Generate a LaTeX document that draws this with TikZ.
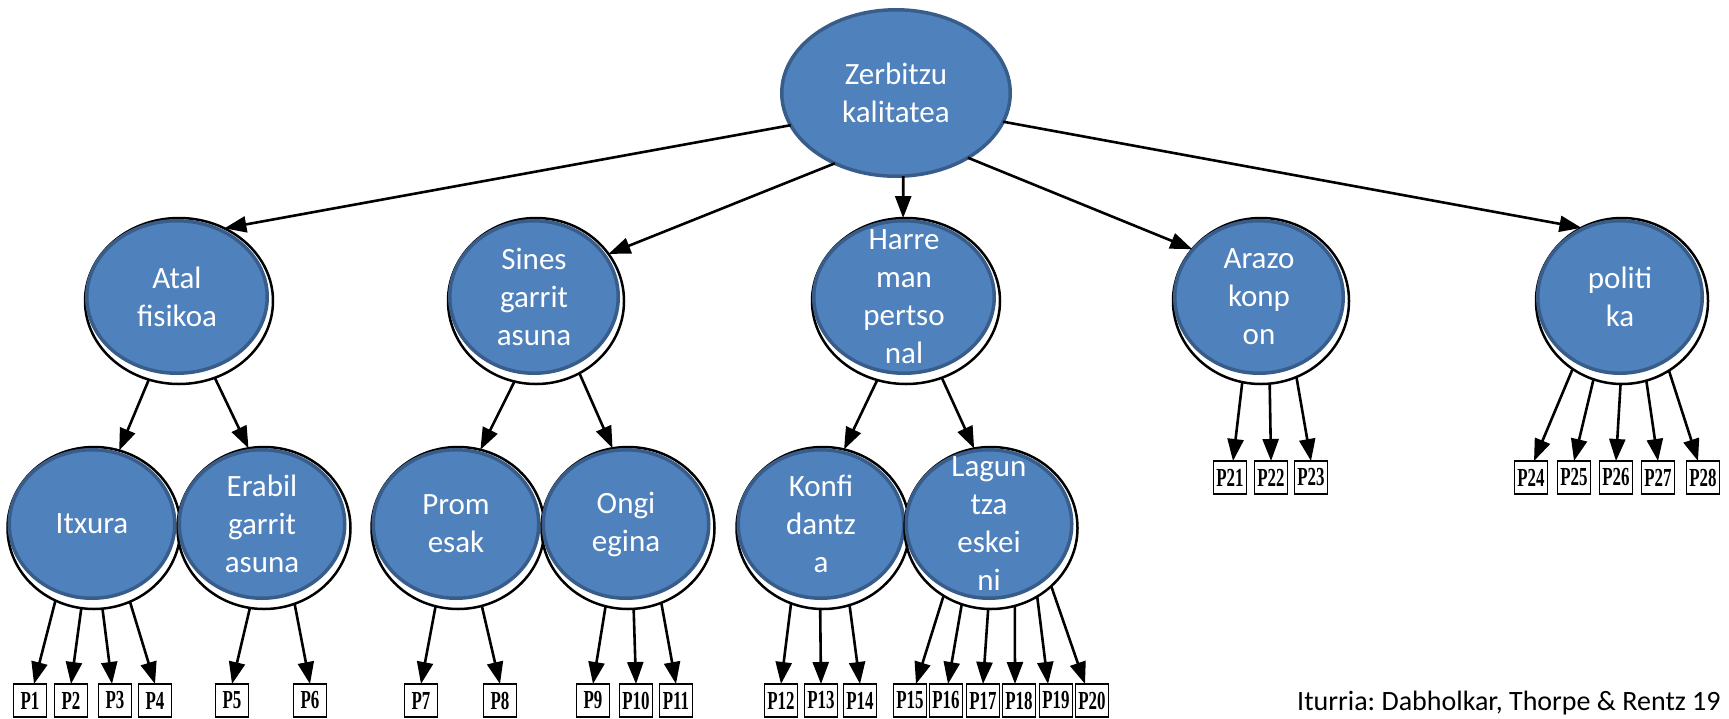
\documentclass[tikz,border=0pt]{standalone}
\usepackage{fontspec}
\setmainfont{Carlito}
\newfontfamily\pfont{Liberation Serif}[FakeStretch=0.65]
\usetikzlibrary{arrows.meta,shapes.geometric}
\definecolor{nodefill}{HTML}{4F81BD}
\definecolor{nodeline}{HTML}{385D8A}

% one concept: outline ring, blue ellipse, white label
% #1 name, #2 centre, #3 half width, #4 half height, #5 text
\newcommand\mkconcept[5]{%
  \node[ring, minimum width={2*#3+4}, minimum height={2*#4+10},
        xshift=2pt, yshift=-4pt] (#1-r) at (#2) {};
  \node[blob, minimum width={2*#3-3.5}, minimum height={2*#4-3.5}] (#1) at (#2) {};
  \node[lbl] (#1-t) at (#1) {#5};
}

\begin{document}
\frenchspacing
\begin{tikzpicture}[x=1pt,y=-1pt,
  ring/.style={ellipse, draw=black, line width=2.5pt, inner sep=0pt, outer sep=0pt},
  blob/.style={ellipse, draw=nodeline, fill=nodefill, line width=3.5pt, inner sep=0pt, outer sep=0pt},
  lbl/.style={text=white, align=center, inner sep=0pt, font=\fontsize{31}{38}\selectfont},
  pbox/.style={draw, line width=1.6pt, minimum width=33pt, minimum height=33pt,
               inner sep=0pt, outer sep=0pt, font=\pfont\bfseries\fontsize{26}{26}\selectfont},
  arr/.style={-{Triangle[length=22pt,width=16pt]}, line width=2.6pt},
]
\useasboundingbox (0,0) rectangle (1729,718);

% root (no outline ring)
\node[blob, minimum width=228.5pt, minimum height=166.5pt] (root) at (896,93) {};
\node[lbl] (root-t) at (root) {Zerbitzu\\kalitatea};

% first level
\mkconcept{atal}{177,297}{92}{78}{Atal\\fisikoa}
\mkconcept{sines}{534,297}{86}{78}{Sines\\garrit\\asuna}
\mkconcept{harre}{904,297}{92}{78}{Harre\\man\\pertso\\nal}
\mkconcept{arazo}{1259,297}{86}{78}{Arazo\\konp\\on}
\mkconcept{politi}{1620,297}{84}{78}{politi\\ka}

% second level
\mkconcept{itxura}{92,524}{84.5}{76}{Itxura}
\mkconcept{erabil}{262,524}{84.5}{76}{Erabil\\garrit\\asuna}
\mkconcept{prom}{456,524}{84.5}{76}{Prom\\esak}
\mkconcept{ongi}{626,524}{84.5}{76}{Ongi\\egina}
\mkconcept{konfi}{821,524}{84.5}{76}{Konfi\\dantz\\a}
\mkconcept{lagun}{989,524}{84.5}{76}{Lagun\\tza\\eskei\\ni}

% item boxes, lower row
\foreach \n/\x in {1/30,2/71,3/115,4/155,5/232,6/310,7/421,8/500,9/593,10/636,
                   11/676,12/781,13/821,14/860,15/910,16/946,17/983,18/1019,19/1056,20/1092}
  \node[pbox] (p\n) at (\x,700.5) {P\n};
% item boxes, upper row
\foreach \n/\x in {21/1230,22/1271,23/1311,24/1531,25/1574,26/1616,27/1658,28/1703}
  \node[pbox] (p\n) at (\x,477.5) {P\n};

% root to first level
\draw[arr] (root.197) -- (atal-r.58);
\draw[arr] (root.229) -- (sines-r.33);
\draw[arr] (root.275) -- (harre-r.92);
\draw[arr] (root.318) -- (arazo-r.143);
\draw[arr] (root.345) -- (politi-r.119);

% first to second level
\draw[arr] (atal-r.249) -- (itxura-r.72);
\draw[arr] (atal-r.295) -- (erabil-r.101);
\draw[arr] (sines-r.255) -- (prom-r.74);
\draw[arr] (sines-r.301) -- (ongi-r.101);
\draw[arr] (harre-r.250) -- (konfi-r.75);
\draw[arr] (harre-r.295) -- (lagun-r.102);

% concepts to items
\draw[arr] (itxura-r.242) -- ([xshift=4pt]p1.north);
\draw[arr] (itxura-r.261) -- (p2.north);
\draw[arr] (itxura-r.276) -- ([xshift=-3pt]p3.north);
\draw[arr] (itxura-r.296) -- (p4.north);
\draw[arr] (erabil-r.260) -- (p5.north);
\draw[arr] (erabil-r.292) -- (p6.north);
\draw[arr] (prom-r.254) -- (p7.north);
\draw[arr] (prom-r.287) -- (p8.north);
\draw[arr] (ongi-r.254) -- (p9.north);
\draw[arr] (ongi-r.274) -- (p10.north);
\draw[arr] (ongi-r.294) -- (p11.north);
\draw[arr] (konfi-r.247) -- (p12.north);
\draw[arr] (konfi-r.268) -- (p13.north);
\draw[arr] (konfi-r.289) -- (p14.north);
\draw[arr] (lagun-r.235) -- ([xshift=6pt]p15.north);
\draw[arr] (lagun-r.249) -- ([xshift=2pt]p16.north);
\draw[arr] (lagun-r.268) -- (p17.north);
\draw[arr] (lagun-r.287) -- ([xshift=-4pt]p18.north);
\draw[arr] (lagun-r.304) -- ([xshift=-8pt]p19.north);
\draw[arr] (lagun-r.316) -- ([xshift=-7pt]p20.north);
\draw[arr] (arazo-r.257) -- ([xshift=3pt]p21.north);
\draw[arr] (arazo-r.276) -- (p22.north);
\draw[arr] (arazo-r.295) -- (p23.north);
\draw[arr] (politi-r.234) -- ([xshift=3pt]p24.north);
\draw[arr] (politi-r.250) -- (p25.north);
\draw[arr] (politi-r.269) -- (p26.north);
\draw[arr] (politi-r.287) -- (p27.north);
\draw[arr] (politi-r.304) -- ([xshift=-5pt]p28.north);

% source line
\node[anchor=base west, inner sep=0pt, font=\fontsize{28}{30}\selectfont] (src)
  at (1297,710) {Iturria: Dabholkar, Thorpe \& Rentz 19};
\end{tikzpicture}
\end{document}
